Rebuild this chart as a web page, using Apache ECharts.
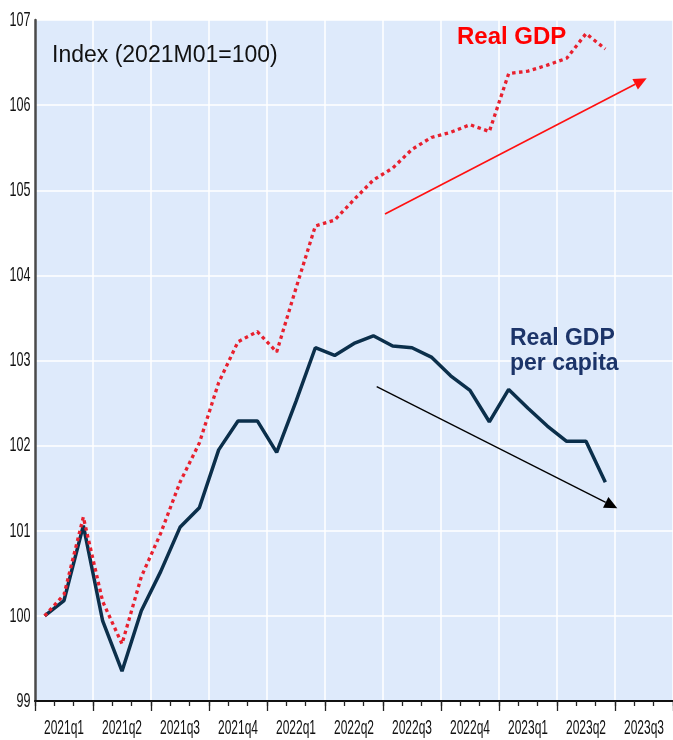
<!DOCTYPE html>
<html>
<head>
<meta charset="utf-8">
<script src="https://cdn.jsdelivr.net/npm/echarts@6/dist/echarts.min.js"></script>
<style>html,body{margin:0;padding:0;background:#fff}#c{width:673px;height:740px}</style>
</head>
<body>
<div id="c"></div>
<script>
// ---- data ----
var months = ['2021-01','2021-02','2021-03','2021-04','2021-05','2021-06','2021-07','2021-08','2021-09',
  '2021-10','2021-11','2021-12','2022-01','2022-02','2022-03','2022-04','2022-05','2022-06',
  '2022-07','2022-08','2022-09','2022-10','2022-11','2022-12','2023-01','2023-02','2023-03',
  '2023-04','2023-05','2023-06','2023-07','2023-08','2023-09'];
var quarterLabels = ['2021q1','2021q2','2021q3','2021q4','2022q1','2022q2','2022q3','2022q4','2023q1','2023q2','2023q3'];
var realGDP = [100.00,100.25,101.16,100.17,99.67,100.46,100.97,101.57,102.03,102.74,103.22,103.34,
  103.10,103.85,104.58,104.65,104.89,105.12,105.26,105.48,105.62,105.68,105.77,105.69,
  106.37,106.40,106.47,106.55,106.84,106.66];
var realGDPperCapita = [100.00,100.18,101.06,99.94,99.35,100.06,100.52,101.04,101.27,101.95,102.29,102.29,
  101.92,102.52,103.15,103.06,103.20,103.29,103.17,103.15,103.04,102.82,102.65,102.28,
  102.66,102.44,102.23,102.05,102.05,101.57];
var yTicks = [99,100,101,102,103,104,105,106,107];

var sans = '"Liberation Sans",Arial,Helvetica,sans-serif';

function arrow(x1,y1,x2,y2,color,w,len,half){
  var dx=x2-x1, dy=y2-y1, L=Math.sqrt(dx*dx+dy*dy), ux=dx/L, uy=dy/L;
  var bx=x2-ux*len, by=y2-uy*len;
  return [
    {type:'line', z:50, shape:{x1:x1,y1:y1,x2:bx,y2:by}, style:{stroke:color,lineWidth:w}},
    {type:'polygon', z:50, shape:{points:[[x2,y2],[bx-uy*half,by+ux*half],[bx+uy*half,by-ux*half]]}, style:{fill:color}}
  ];
}

var chart = echarts.init(document.getElementById('c'), null, {renderer:'canvas'});
var option = {
  animation:false,
  backgroundColor:'#ffffff',
  grid:{left:35,right:-4.5,top:20,bottom:39,show:true,backgroundColor:'#deeafb',borderWidth:0},
  xAxis:[{
    type:'category', data:months, boundaryGap:true,
    axisLine:{show:true,lineStyle:{color:'#111',width:2}},
    axisTick:{show:true,interval:0,length:5,lineStyle:{color:'#222',width:1.3}},
    axisLabel:{show:false},
    splitLine:{show:false}
  },{
    type:'category', data:months, boundaryGap:true, position:'bottom',
    axisLine:{show:false},
    axisTick:{show:true,interval:function(i){return i%3===0;},length:10,lineStyle:{color:'#222',width:1.3}},
    axisLabel:{show:false},
    splitLine:{show:true,interval:function(i){return i%3===0;},lineStyle:{color:'#ffffff',width:1.5}}
  }],
  yAxis:{
    type:'value', min:99, max:107, interval:1,
    axisLine:{show:true,lineStyle:{color:'#4a4a4a',width:2.5}},
    axisTick:{show:false},
    axisLabel:{show:false},
    splitLine:{show:true,lineStyle:{color:'#ffffff',width:1.5}}
  },
  series:[{
    name:'Real GDP per capita', type:'line', data:realGDPperCapita, xAxisIndex:0, symbol:'none',
    lineStyle:{color:'#0b2f4b',width:3.5}, z:3
  },{
    name:'Real GDP', type:'line', data:realGDP, xAxisIndex:0, symbol:'none',
    lineStyle:{color:'#e8202e',width:3.3,type:[3.5,3.5]}, z:4
  }]
};
chart.setOption(option);

// condensed tick labels placed through the chart's own axes
var g = [];
quarterLabels.forEach(function(q, k){
  var x = chart.convertToPixel({xAxisIndex:0}, months[k*3+1]);
  g.push({type:'text', z:60, x:x, y:728.5, scaleX:0.6,
    style:{text:q, fontFamily:sans, fontSize:20, fill:'#111', align:'center', verticalAlign:'middle'}});
});
yTicks.forEach(function(v){
  var y = chart.convertToPixel({yAxisIndex:0}, v);
  g.push({type:'text', z:60, x:30.5, y:y, scaleX:0.6,
    style:{text:String(v), fontFamily:sans, fontSize:21, fill:'#111', align:'right', verticalAlign:'middle'}});
});
g = g.concat(
  [{type:'text', z:60, left:52, top:44, style:{text:'Index (2021M01=100)', fontFamily:sans, fontSize:23, fill:'#111'}},
   {type:'text', z:60, left:457, top:25, style:{text:'Real GDP', fontFamily:sans, fontSize:24, fontWeight:'bold', fill:'#ff0000'}},
   {type:'text', z:60, left:510, top:327, style:{text:'Real GDP', fontFamily:sans, fontSize:23, fontWeight:'bold', fill:'#1c3469'}},
   {type:'text', z:60, left:510, top:352, style:{text:'per capita', fontFamily:sans, fontSize:23, fontWeight:'bold', fill:'#1c3469'}}],
  arrow(385,214,646.7,78.3,'#ff1010',1.6,13,6),
  arrow(376.7,386.7,617.3,508.3,'#000000',1.3,13,6)
);
chart.setOption({graphic:g});
</script>
</body>
</html>
